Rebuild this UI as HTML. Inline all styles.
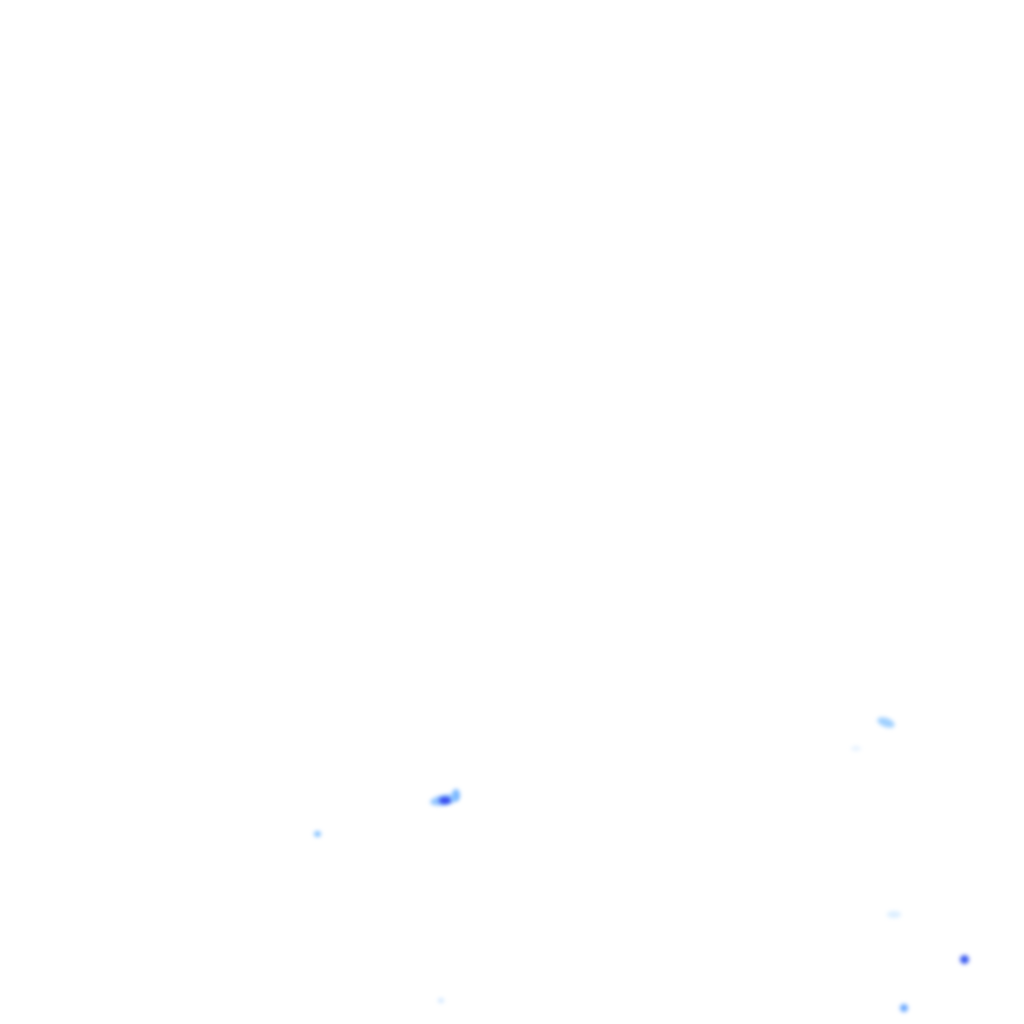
<!DOCTYPE html>
<html><head><meta charset="utf-8"><style>
html,body{margin:0;padding:0;background:#fff;width:1024px;height:1024px;overflow:hidden;position:relative}
.b{position:absolute;border-radius:50%;filter:blur(2px)}
</style></head><body>
<div class="b" style="left:430px;top:795px;width:28px;height:10px;background:#8fc4ff;transform:rotate(-10deg)"></div>
<div class="b" style="left:439px;top:797px;width:12px;height:7px;background:#3344ee"></div>
<div class="b" style="left:452px;top:789px;width:8px;height:12px;background:#7ab8ff"></div>
<div class="b" style="left:877px;top:718px;width:18px;height:9px;background:#9fd0ff;transform:rotate(20deg)"></div>
<div class="b" style="left:314px;top:831px;width:7px;height:6px;background:#7fbfff"></div>
<div class="b" style="left:960px;top:955px;width:9px;height:9px;background:#3a5af0"></div>
<div class="b" style="left:900px;top:1004px;width:8px;height:8px;background:#6aa8ff"></div>
<div class="b" style="left:887px;top:911px;width:14px;height:7px;background:#dbeeff"></div>
<div class="b" style="left:438px;top:998px;width:6px;height:5px;background:#cfe6ff"></div>
<div class="b" style="left:851px;top:746px;width:10px;height:5px;background:#e6f2ff"></div>
</body></html>
